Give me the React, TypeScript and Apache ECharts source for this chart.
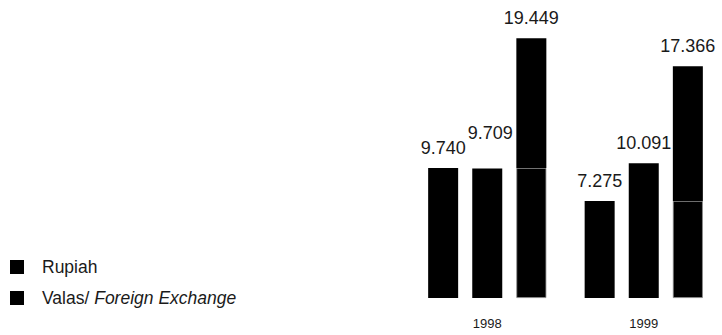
import React, { useEffect, useRef } from "react";
import * as echarts from "echarts";

const years = ["1998", "1999"];
const rupiah = [9740, 7275];
const valas = [9709, 10091];
const legendNames = ["Rupiah", "Valas/ Foreign Exchange"];

const fmt = (n: number) => String(n).replace(/\B(?=(\d{3})+(?!\d))/g, ".");

const FONT = "'Liberation Sans', Arial, Helvetica, sans-serif";
const TEXT = "#1a1a1a";

export default function App() {
  const ref = useRef<HTMLDivElement>(null);

  useEffect(() => {
    document.body.style.margin = "0";
    if (!ref.current) return;
    const chart = echarts.init(ref.current, undefined, { renderer: "svg" });

    const labelBase = {
      show: true,
      position: "top" as const,
      distance: 11,
      fontSize: 18,
      fontFamily: FONT,
      color: TEXT,
    };

    chart.setOption({
      animation: false,
      backgroundColor: "#ffffff",
      textStyle: { fontFamily: FONT },
      legend: {
        orient: "vertical",
        left: 5,
        top: 253,
        itemWidth: 14,
        itemHeight: 14,
        itemGap: 13,
        icon: "rect",
        data: legendNames,
        selectedMode: false,
        formatter: (name: string) =>
          name.startsWith("Valas/") ? "Valas/ {i|Foreign Exchange}" : name,
        textStyle: {
          fontSize: 17.5,
          fontFamily: FONT,
          color: TEXT,
          padding: [0, 0, 0, 13],
          rich: {
            i: { fontStyle: "italic", fontSize: 17.5, fontFamily: FONT, color: TEXT },
          },
        },
      },
      grid: { left: 409, width: 316, top: 31, bottom: 37 },
      xAxis: {
        type: "category",
        data: years,
        axisLine: { show: false },
        axisTick: { show: false },
        axisLabel: { fontSize: 13, fontFamily: FONT, color: TEXT, margin: 19 },
      },
      yAxis: {
        type: "value",
        min: 0,
        max: 20000,
        show: false,
        splitLine: { show: false },
      },
      series: [
        {
          name: legendNames[0],
          type: "bar",
          barWidth: 30,
          barGap: "47%",
          itemStyle: { color: "#000" },
          data: rupiah,
          label: { ...labelBase, formatter: (p: any) => fmt(p.value) },
        },
        {
          name: legendNames[1],
          type: "bar",
          barWidth: 30,
          barGap: "47%",
          itemStyle: { color: "#000" },
          data: valas,
          label: { ...labelBase, formatter: (p: any) => fmt(p.value) },
          labelLayout: (params: any) =>
            params.dataIndex === 0 ? { dx: 3, dy: -15 } : {},
        },
        {
          name: legendNames[0],
          type: "bar",
          stack: "total",
          barWidth: 30,
          barGap: "47%",
          itemStyle: { color: "#000", borderColor: "#8a8a8a", borderWidth: 0.8 },
          data: rupiah,
        },
        {
          name: legendNames[1],
          type: "bar",
          stack: "total",
          barWidth: 30,
          barGap: "47%",
          itemStyle: { color: "#000" },
          data: valas,
          label: {
            ...labelBase,
            formatter: (p: any) => fmt(rupiah[p.dataIndex] + valas[p.dataIndex]),
          },
        },
      ],
    });

    return () => chart.dispose();
  }, []);

  return <div ref={ref} style={{ width: 722, height: 335 }} />;
}
